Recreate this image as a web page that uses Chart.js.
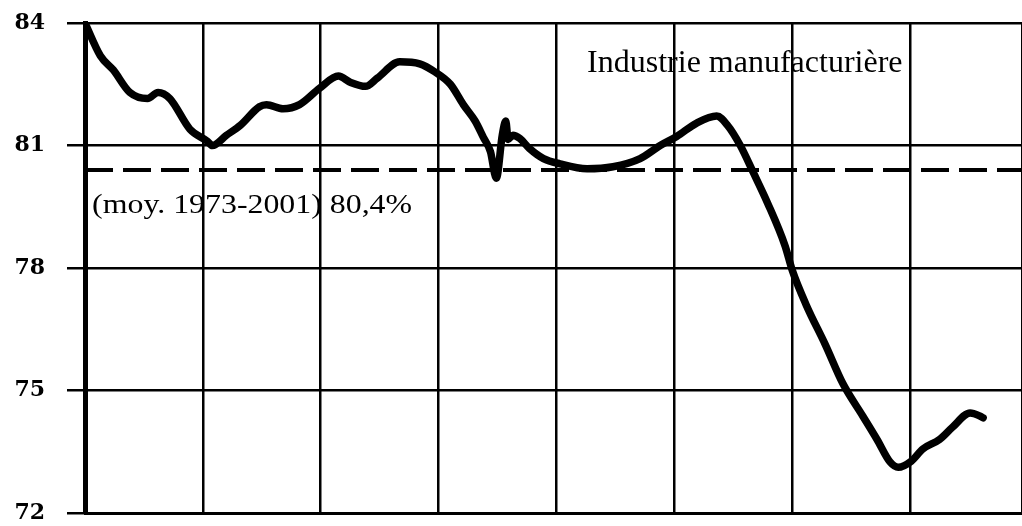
<!DOCTYPE html>
<html lang="fr">
<head>
<meta charset="utf-8">
<title>Industrie manufacturière</title>
<script src="https://cdn.jsdelivr.net/npm/chart.js@4/dist/chart.umd.min.js"></script>
<style>
  html, body { margin: 0; padding: 0; background: #fff; }
  #wrap { width: 1022px; height: 526px; position: relative; }
</style>
</head>
<body>
<div id="wrap"><canvas id="tauxChart"></canvas></div>
<script>
// Taux d'utilisation des capacités (%) - one vertical gridline per year
const periodes = [
    1995.00, 1995.13, 1995.24, 1995.38, 1995.53, 1995.62, 1995.72, 1995.89,
    1996.04, 1996.08, 1996.20, 1996.32, 1996.48, 1996.54, 1996.68, 1996.82,
    1996.99, 1997.15, 1997.25, 1997.38, 1997.48, 1997.67, 1997.84, 1997.97,
    1998.10, 1998.21, 1998.31, 1998.38, 1998.44, 1998.49, 1998.54, 1998.57,
    1998.59, 1998.63, 1998.69, 1998.77, 1998.89, 1999.03, 1999.26, 1999.48,
    1999.71, 1999.88, 2000.02, 2000.19, 2000.36, 2000.45, 2000.56, 2000.67,
    2000.79, 2000.94, 2001.00, 2001.12, 2001.28, 2001.43, 2001.60, 2001.72,
    2001.83, 2001.90, 2002.01, 2002.11, 2002.25, 2002.36, 2002.51, 2002.59,
    2002.62
];
const taux = [
    84.0, 83.2, 82.85, 82.3, 82.15, 82.3, 82.15, 81.4,
    81.1, 81.0, 81.25, 81.5, 81.95, 82.0, 81.9, 82.0,
    82.4, 82.7, 82.55, 82.45, 82.65, 83.05, 83.0, 82.8,
    82.5, 82.0, 81.6, 81.2, 80.85, 80.2, 81.25, 81.6,
    81.15, 81.25, 81.17, 80.93, 80.68, 80.55, 80.43, 80.48,
    80.68, 81.0, 81.22, 81.55, 81.72, 81.5, 81.0, 80.34,
    79.6, 78.54, 77.95, 77.09, 76.13, 75.17, 74.37, 73.8,
    73.25, 73.12, 73.27, 73.57, 73.8, 74.1, 74.45, 74.38,
    74.33
];
const moyenne = 80.4;
const yTicks = [72, 75, 78, 81, 84];
const xRange = [1995, 2002.95];

const titre = "Industrie manufacturière";
const noteMoyenne = "(moy. 1973-2001) 80,4%";

// stretch a text to a given width (the original face is wider than Times)
function fitText(ctx, text, px, py, width) {
    let w = ctx.measureText(text).width;
    ctx.save();
    ctx.translate(px, py);
    ctx.scale(width / w, 1);
    ctx.fillText(text, 0, 0);
    ctx.restore();
}

const annotations = {
    id: 'annotations',
    afterDatasetsDraw(chart) {
        let { ctx, scales: { x, y } } = chart;
        ctx.save();
        ctx.fillStyle = '#000';
        ctx.textBaseline = 'alphabetic';
        ctx.textAlign = 'left';
        ctx.font = '32px "Liberation Serif"';
        ctx.fillText(titre, x.getPixelForValue(1999.26), y.getPixelForValue(82.8));
        ctx.font = '27px "Liberation Serif"';
        fitText(ctx, noteMoyenne, x.getPixelForValue(1995.06), y.getPixelForValue(79.35), 320);
        ctx.restore();
    }
};

let points = periodes.map((p, i) => ({ x: p, y: taux[i] }));

new Chart(document.getElementById('tauxChart'), {
    type: 'line',
    data: {
        datasets: [
            {
                label: 'Industrie manufacturière',
                data: points,
                borderColor: '#000',
                borderWidth: 7.5,
                pointRadius: 0,
                cubicInterpolationMode: 'monotone',
                borderCapStyle: 'round',
                borderJoinStyle: 'round'
            },
            {
                label: 'Moyenne 1973-2001',
                data: [{ x: xRange[0], y: moyenne }, { x: xRange[1], y: moyenne }],
                borderColor: '#000',
                borderWidth: 4,
                borderDash: [28, 10],
                pointRadius: 0
            }
        ]
    },
    options: {
        responsive: true,
        maintainAspectRatio: false,
        animation: false,
        layout: { padding: { top: 23, bottom: 13, left: 0, right: 0 } },
        plugins: {
            legend: { display: false },
            tooltip: { enabled: false }
        },
        scales: {
            x: {
                type: 'linear',
                min: xRange[0],
                max: xRange[1],
                ticks: { display: false, stepSize: 1 },
                grid: { color: '#000', lineWidth: 2.5, drawTicks: false },
                border: { color: '#000', width: 3 },
                afterFit: (scale) => {
                    scale.height = 0;
                    scale.paddingLeft = 0;
                    scale.paddingRight = 0;
                }
            },
            y: {
                min: 72,
                max: 84,
                afterBuildTicks: (scale) => { scale.ticks = yTicks.map(v => ({ value: v })); },
                ticks: {
                    color: '#000',
                    padding: 22,
                    font: { family: '"DejaVu Serif"', size: 22, weight: 'bold' }
                },
                grid: { color: '#000', lineWidth: 2.5, tickLength: 18 },
                border: { color: '#000', width: 5 },
                afterFit: (scale) => {
                    scale.width = 85;
                    // keep the label padding from pushing the plot area in
                    scale.paddingTop = 0;
                    scale.paddingBottom = 0;
                }
            }
        }
    },
    plugins: [annotations]
});
</script>
</body>
</html>
